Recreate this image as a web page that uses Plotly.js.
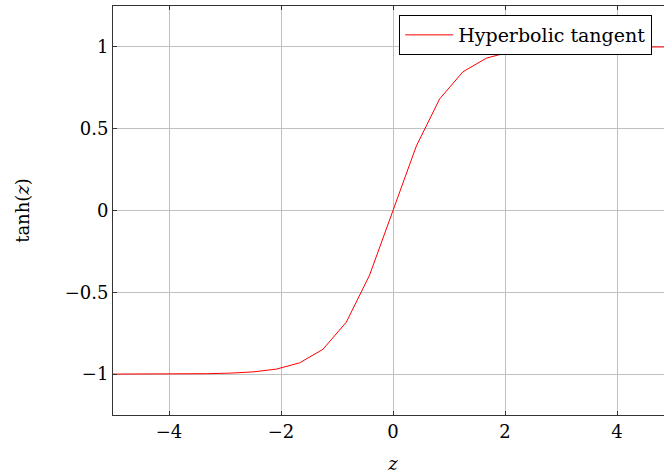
<!DOCTYPE html>
<html>
<head>
<meta charset="utf-8">
<script src="https://cdn.plot.ly/plotly-3.0.1.min.js"></script>
<style>
html,body{margin:0;padding:0;overflow:hidden;background:#fff;}
#chart{width:700px;height:476px;}
</style>
</head>
<body>
<div id="chart"></div>
<script>
// Sampled points of the curve (25 samples over -5..5)
const zValues = [-5, -4.583, -4.167, -3.75, -3.333, -2.917, -2.5, -2.083, -1.667, -1.25, -0.833, -0.417, 0,
                 0.417, 0.833, 1.25, 1.667, 2.083, 2.5, 2.917, 3.333, 3.75, 4.167, 4.583, 5];
const tanhValues = [-0.9999, -0.9998, -0.9995, -0.9989, -0.9975, -0.9942, -0.9866, -0.9695, -0.9311, -0.8483, -0.6822, -0.3941, 0,
                    0.3941, 0.6822, 0.8483, 0.9311, 0.9695, 0.9866, 0.9942, 0.9975, 0.9989, 0.9995, 0.9998, 0.9999];
const xTicks = [-4, -2, 0, 2, 4];
const yTicks = [-1, -0.5, 0, 0.5, 1];
const seriesName = 'Hyperbolic tangent';

const font = "DejaVu Serif";
const fs = 18;

Plotly.newPlot('chart', [{
  x: zValues, y: tanhValues, type: 'scatter', mode: 'lines',
  name: seriesName, line: {color: '#ff0000', width: 1}
}], {
  width: 700, height: 476,
  margin: {l: 113, r: 27, t: 6, b: 61},
  paper_bgcolor: '#fff', plot_bgcolor: '#fff',
  font: {family: font, size: fs, color: '#000'},
  showlegend: true,
  legend: {x: 0.511, y: 0.978, xanchor: 'left', yanchor: 'top',
           bgcolor: '#fff', bordercolor: '#000', borderwidth: 1,
           itemwidth: 48,
           font: {family: font, size: 19, color: '#000'}},
  xaxis: {range: [-5, 5], tickvals: xTicks, ticktext: xTicks.map(v => v < 0 ? '\u2212' + Math.abs(v) : String(v)),
          showgrid: true, gridcolor: '#c0c0c0', gridwidth: 1, zeroline: false,
          showline: true, linecolor: '#333', linewidth: 1, mirror: 'ticks',
          ticks: 'inside', ticklen: 4, tickcolor: '#333',
          title: {text: '<i>z</i>', standoff: 16, font: {family: font, size: fs}}},
  yaxis: {range: [-1.25, 1.25], tickvals: yTicks, ticktext: yTicks.map(v => v < 0 ? '\u2212' + Math.abs(v) : String(v)),
          showgrid: true, gridcolor: '#c0c0c0', gridwidth: 1, zeroline: false,
          showline: true, linecolor: '#333', linewidth: 1, mirror: 'ticks',
          ticks: 'inside', ticklen: 4, tickcolor: '#333',
          title: {text: 'tanh(<i>z</i>)', standoff: 30, font: {family: font, size: fs}}}
}, {displayModeBar: false, staticPlot: true});
</script>
</body>
</html>
